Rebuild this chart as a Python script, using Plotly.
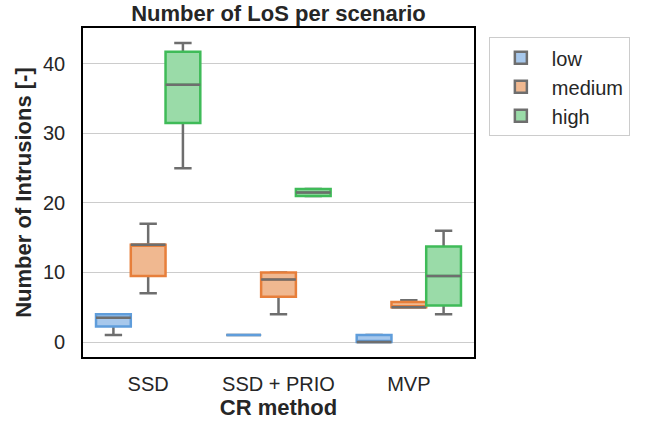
import plotly.graph_objects as go

# Categories and hue levels
methods = ["SSD", "SSD + PRIO", "MVP"]
levels = ["low", "medium", "high"]

# Box statistics per level, one value per CR method (SSD, SSD + PRIO, MVP)
q1 = {
    "low": [2.25, 1, 0],
    "medium": [9.5, 6.5, 5],
    "high": [31.5, 21, 5.25],
}
median = {
    "low": [3.5, 1, 0],
    "medium": [14, 9, 5],
    "high": [37, 21.5, 9.5],
}
q3 = {
    "low": [4, 1, 1],
    "medium": [14, 10, 5.75],
    "high": [41.75, 22, 13.75],
}
lower = {
    "low": [1, 1, 0],
    "medium": [7, 4, 5],
    "high": [25, 21, 4],
}
upper = {
    "low": [4, 1, 1],
    "medium": [17, 10, 6],
    "high": [43, 22, 16],
}

fill_colors = {"low": "#a7c8ec", "medium": "#f0b890", "high": "#9adba8"}
edge_colors = {"low": "#5f9ddb", "medium": "#e77f3b", "high": "#3fbb58"}
whisker_color = "#6e6e6e"

FONT = "Liberation Sans, Arial, sans-serif"
LW = 2.5

fig = go.Figure()

for lvl in levels:
    # whiskers and caps (gray), box collapsed onto the median
    fig.add_trace(go.Box(
        x=methods, q1=median[lvl], median=median[lvl], q3=median[lvl],
        lowerfence=lower[lvl], upperfence=upper[lvl],
        name=lvl, legendgroup=lvl, offsetgroup=lvl, showlegend=True,
        fillcolor=fill_colors[lvl], line=dict(color=whisker_color, width=LW),
        whiskerwidth=0.5, boxpoints=False, hoverinfo="skip",
    ))
    # interquartile box with coloured outline
    fig.add_trace(go.Box(
        x=methods, q1=q1[lvl], median=median[lvl], q3=q3[lvl],
        lowerfence=q1[lvl], upperfence=q3[lvl],
        name=lvl, legendgroup=lvl, offsetgroup=lvl, showlegend=False,
        fillcolor=fill_colors[lvl], line=dict(color=edge_colors[lvl], width=LW),
        whiskerwidth=0, boxpoints=False, hoverinfo="skip",
    ))
    # gray median line on top of boxes with a non-zero spread
    keep = [i for i in range(len(methods)) if q3[lvl][i] > q1[lvl][i]]
    mx = [methods[i] for i in keep]
    med = [median[lvl][i] for i in keep]
    fig.add_trace(go.Box(
        x=mx, q1=med, median=med, q3=med, lowerfence=med, upperfence=med,
        name=lvl, legendgroup=lvl, offsetgroup=lvl, showlegend=False,
        fillcolor="rgba(0,0,0,0)", line=dict(color=whisker_color, width=LW),
        whiskerwidth=0, boxpoints=False, hoverinfo="skip",
    ))

fig.update_layout(
    width=649, height=427,
    margin=dict(l=83, r=175, t=28, b=70),
    paper_bgcolor="white", plot_bgcolor="white",
    boxmode="group", boxgap=0.2, boxgroupgap=0,
    font=dict(family=FONT, size=20, color="#262626"),
    title=dict(
        text="Number of LoS per scenario",
        font=dict(family=FONT, size=22, color="#262626", weight="bold"),
        x=0.5, xref="paper", xanchor="center",
        y=1 - 13 / 427, yref="container", yanchor="middle",
    ),
    legend=dict(
        x=1.038, y=0.972, xanchor="left", yanchor="top",
        bordercolor="#cccccc", borderwidth=1, bgcolor="white",
        font=dict(family=FONT, size=20, color="#262626"),
        tracegroupgap=0, itemwidth=52,
    ),
    showlegend=True,
)

fig.update_xaxes(
    type="category", range=[-0.5, 2.5],
    showline=True, mirror=True, linecolor="black", linewidth=1.6,
    showgrid=False, ticks="outside", ticklen=8, tickcolor="rgba(0,0,0,0)",
    tickfont=dict(family=FONT, size=20, color="#262626"),
    title=dict(text="CR method", standoff=6,
               font=dict(family=FONT, size=22, color="#262626", weight="bold")),
)
fig.update_yaxes(
    range=[-2.15, 45.15], tickvals=[0, 10, 20, 30, 40],
    showline=True, mirror=True, linecolor="black", linewidth=1.6,
    showgrid=True, gridcolor="#cccccc", gridwidth=1, zeroline=False,
    ticks="outside", ticklen=12, tickcolor="rgba(0,0,0,0)",
    tickfont=dict(family=FONT, size=20, color="#262626"),
    title=dict(text="Number of Intrusions [-]", standoff=5,
               font=dict(family=FONT, size=22, color="#262626", weight="bold")),
)

fig.write_html("out.html")
